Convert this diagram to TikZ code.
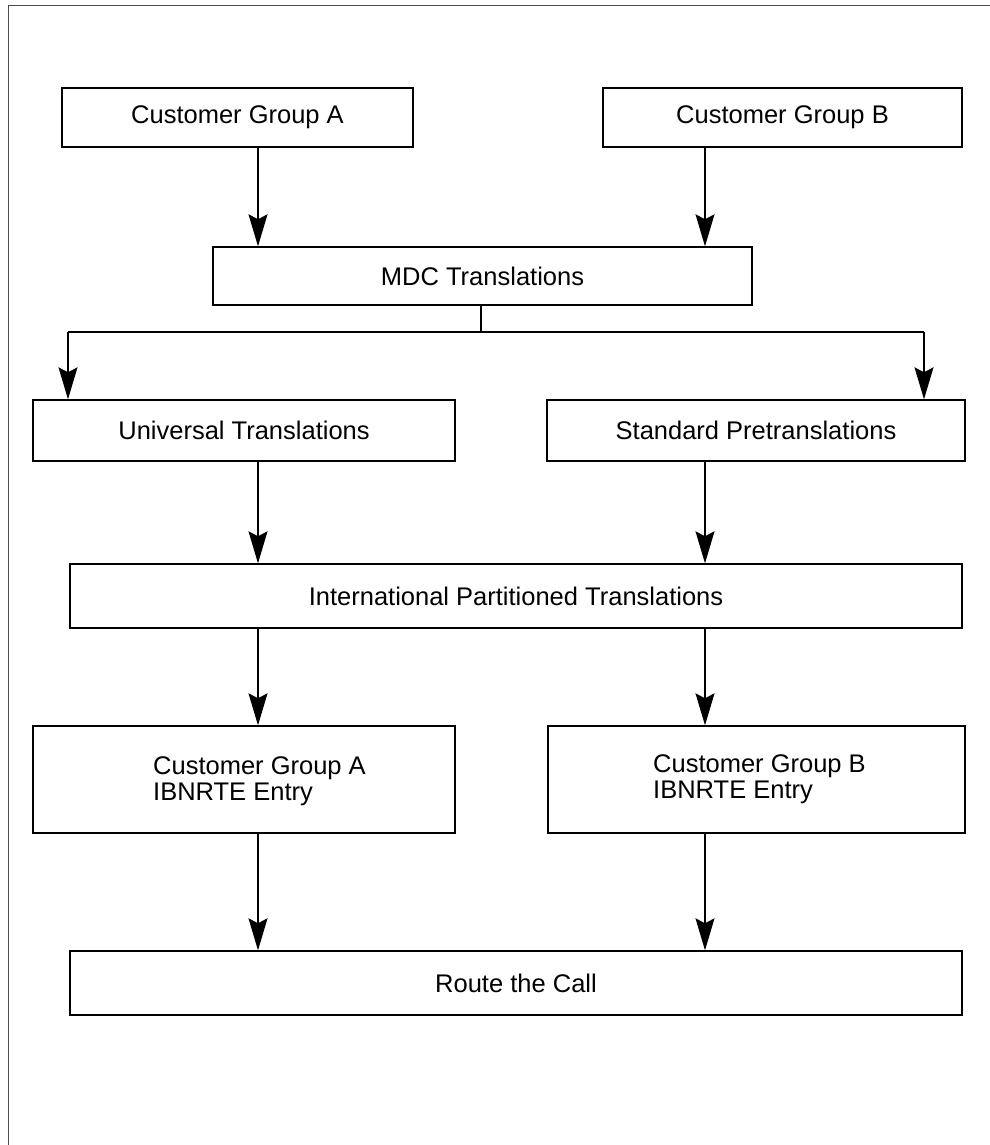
\documentclass[tikz,border=0pt]{standalone}
\usepackage{fontspec}
\setmainfont{Liberation Sans}
\usetikzlibrary{arrows.meta}
\begin{document}
\begin{tikzpicture}[x=1pt,y=-1pt,
  every node/.style={font=\fontsize{25.5}{26}\selectfont},
  box/.style={draw=black,line width=1.4pt,rectangle,inner sep=0pt,anchor=center},
  lbl/.style={inner sep=0pt,anchor=base west},
  arr/.style={line width=1.3pt,-{Stealth[length=32pt,width=19pt,inset=5pt]}},
  link/.style={line width=1.3pt}]
\useasboundingbox (0,0) rectangle (989,1145);
% outer frame (only top and left edges fall inside the page)
\draw[line width=1pt,black!70] (8,1150) -- (8,6) -- (995,6);

% boxes
\node[box,minimum width=351pt,minimum height=59pt] (cga) at (237.5,117.5) {Customer Group A};
\node[box,minimum width=359pt,minimum height=59pt] (cgb) at (782.5,117.5) {Customer Group B};
\node[box,minimum width=539pt,minimum height=58pt] (mdc) at (482.5,276) {MDC Translations};
\node[box,minimum width=422pt,minimum height=61pt] (univ) at (244,430.5) {Universal Translations};
\node[box,minimum width=418pt,minimum height=61pt] (std) at (756,430.5) {Standard Pretranslations};
\node[box,minimum width=892pt,minimum height=64pt] (intl) at (516,596) {International Partitioned Translations};
\node[box,minimum width=422pt,minimum height=107pt] (iba) at (244,779.5) {};
\node[box,minimum width=417pt,minimum height=107pt] (ibb) at (756.5,779.5) {};
\node[box,minimum width=892pt,minimum height=64pt] (route) at (516,983) {Route the Call};

% two-line labels of the IBNRTE boxes
\node[lbl] (ibaA) at (153,774) {Customer Group A};
\node[lbl] (ibaB) at (153,800) {IBNRTE Entry};
\node[lbl] (ibbA) at (653,772) {Customer Group B};
\node[lbl] (ibbB) at (653,798) {IBNRTE Entry};

% column positions of the vertical connectors
\coordinate (colA) at (258,0);
\coordinate (colB) at (705,0);
\coordinate (split) at (481,332);
\coordinate (splitL) at (68,332);
\coordinate (splitR) at (924,332);

\draw[arr] (colA |- cga.south) -- (colA |- mdc.north);
\draw[arr] (colB |- cgb.south) -- (colB |- mdc.north);

\draw[link] (split |- mdc.south) -- (split);
\draw[link] (splitL) -- (splitR);
\draw[arr] (splitL) -- (splitL |- univ.north);
\draw[arr] (splitR) -- (splitR |- std.north);

\draw[arr] (colA |- univ.south) -- (colA |- intl.north);
\draw[arr] (colB |- std.south) -- (colB |- intl.north);
\draw[arr] (colA |- intl.south) -- (colA |- iba.north);
\draw[arr] (colB |- intl.south) -- (colB |- ibb.north);
\draw[arr] (colA |- iba.south) -- (colA |- route.north);
\draw[arr] (colB |- ibb.south) -- (colB |- route.north);
\end{tikzpicture}
\end{document}
